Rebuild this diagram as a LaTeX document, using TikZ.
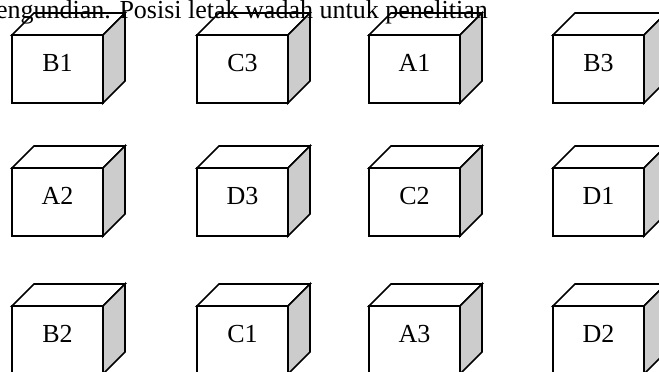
\documentclass[tikz,border=0pt]{standalone}
\usepackage{fontspec}
\setmainfont{Liberation Serif}
\definecolor{boxgray}{RGB}{204,204,204}
\tikzset{
  face/.style={draw=black, line width=1.7pt, line join=miter, fill=white},
  sideface/.style={face, fill=boxgray},
  front/.style={face, rectangle, minimum width=91pt, minimum height=68pt,
    inner sep=0pt, outer sep=0pt},
  lbl/.style={font=\fontsize{26}{30}\selectfont, inner sep=0pt, anchor=base},
}
% one crate: name, x and y of the front face's top-left corner, label
\newcommand\crate[4]{%
  \node[front, anchor=north west] (#1) at (#2,#3) {};
  \filldraw[face] (#1.north west) -- ++(22,-22) -- ++(91,0) -- (#1.north east) -- cycle;
  \filldraw[sideface] (#1.north east) -- ++(22,-22) -- ++(0,68) -- (#1.south east) -- cycle;
  \node[lbl] (#1-t) at ([yshift=-36pt]#1.north) {#4};
}
\begin{document}
\begin{tikzpicture}[x=1pt, y=-1pt]
  \useasboundingbox (0,0) rectangle (659,372);
  \fill[white] (0,0) rectangle (659,372);
  % first row
  \crate{b1}{12}{35}{B1}
  \crate{c3}{197}{35}{C3}
  \crate{a1}{369}{35}{A1}
  \crate{b3}{553}{35}{B3}
  % second row
  \crate{a2}{12}{168}{A2}
  \crate{d3}{197}{168}{D3}
  \crate{c2}{369}{168}{C2}
  \crate{d1}{553}{168}{D1}
  % third row
  \crate{b2}{12}{306}{B2}
  \crate{c1}{197}{306}{C1}
  \crate{a3}{369}{306}{A3}
  \crate{d2}{553}{306}{D2}
  % heading line
  \node[lbl, anchor=base east] (caption) at (488,18)
    {engundian. Posisi letak wadah untuk penelitian};
\end{tikzpicture}
\end{document}
